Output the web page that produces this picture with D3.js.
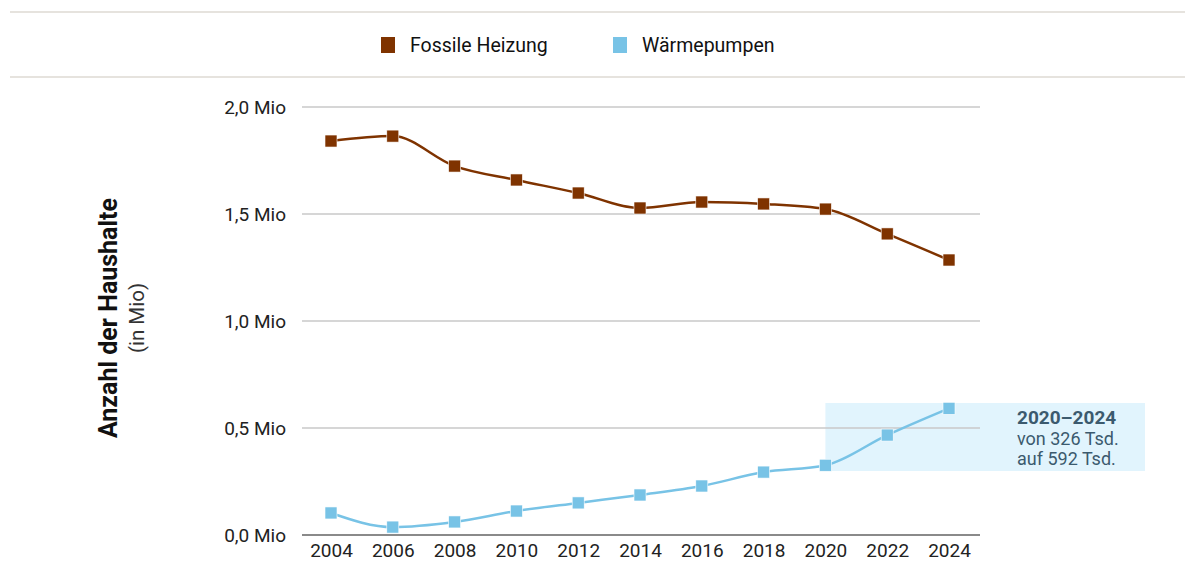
<!DOCTYPE html>
<html><head><meta charset="utf-8">
<script src="https://cdn.jsdelivr.net/npm/d3@7"></script>
<style>body{margin:0;background:#fff;}svg{display:block;font-family:Roboto,"Liberation Sans",sans-serif;}</style>
</head><body><svg id="c" width="1185" height="563"></svg>
<script>
const years = [2004,2006,2008,2010,2012,2014,2016,2018,2020,2022,2024];
const fossil = [1.841,1.864,1.724,1.659,1.598,1.528,1.556,1.547,1.523,1.407,1.285];
const heatpump = [0.103,0.037,0.061,0.112,0.150,0.187,0.229,0.294,0.326,0.467,0.592];
const yTicks = [0,0.5,1.0,1.5,2.0];
const seriesNames = ["Fossile Heizung","Wärmepumpen"];
const seriesColors = ["#7f3300","#78c3e6"];
const annoLines = ["2020–2024","von 326 Tsd.","auf 592 Tsd."];
const annoRange = [2020,2024];

const svg = d3.select("#c");
const x = d3.scaleLinear().domain([2004,2024]).range([331,949]);
const y = d3.scaleLinear().domain([0,2]).range([535,107]);

// top rules
[12,77].forEach(yy=>svg.append("line").attr("x1",10).attr("x2",1185).attr("y1",yy).attr("y2",yy).attr("stroke","#e6e3de").attr("stroke-width",2));

// legend
const legX=[381,613];
seriesNames.forEach((n,i)=>{
  svg.append("rect").attr("x",legX[i]).attr("y",37).attr("width",14).attr("height",16).attr("fill",seriesColors[i]);
  svg.append("text").attr("x",legX[i]+29).attr("y",52).attr("font-size",19.5).attr("fill","#111").text(n);
});

// annotation box
svg.append("rect").attr("x",x(annoRange[0])).attr("y",403).attr("width",1145-x(annoRange[0])).attr("height",68).attr("fill","#e1f4fd");

// grid
svg.append("g").selectAll("line").data(yTicks.filter(d=>d>0)).join("line")
  .attr("x1",302).attr("x2",980).attr("y1",d=>y(d)).attr("y2",d=>y(d)).attr("stroke","#c8c8c8").attr("stroke-width",1.5);
svg.append("line").attr("x1",302).attr("x2",980).attr("y1",y(0)).attr("y2",y(0)).attr("stroke","#8a8a8a").attr("stroke-width",2);

// y labels
const fmt = d=>d3.format(".1f")(d).replace(".",",")+" Mio";
const ya = svg.append("g").attr("transform","translate(286,0)").call(d3.axisLeft(y).tickValues(yTicks).tickSize(0).tickPadding(0).tickFormat(fmt));
ya.select(".domain").remove();
ya.selectAll("text").attr("font-size",19).attr("fill","#222").attr("font-family","Roboto,sans-serif");

// x labels
const xa = svg.append("g").attr("transform","translate(0,542)").call(d3.axisBottom(x).tickValues(years).tickSize(0).tickPadding(0).tickFormat(d3.format("d")));
xa.select(".domain").remove();
xa.selectAll("text").attr("font-size",19).attr("fill","#222").attr("font-family","Roboto,sans-serif").attr("dy","0.8em");

// axis title
svg.append("text").attr("transform","translate(117,318) rotate(-90)").attr("text-anchor","middle")
  .attr("font-size",25).attr("font-weight","bold").attr("fill","#111").text("Anzahl der Haushalte");
svg.append("text").attr("transform","translate(144,318) rotate(-90)").attr("text-anchor","middle").attr("font-size",20.5).attr("fill","#333").text("(in Mio)");

// lines
const line = d3.line().x((d,i)=>x(years[i])).y(d=>y(d)).curve(d3.curveMonotoneX);
[fossil,heatpump].forEach((s,k)=>{
  svg.append("path").attr("d",line(s)).attr("fill","none").attr("stroke",seriesColors[k]).attr("stroke-width",2.5);
  svg.append("g").selectAll("rect").data(s).join("rect")
    .attr("x",(d,i)=>x(years[i])-6).attr("y",d=>y(d)-6).attr("width",12).attr("height",12)
    .attr("fill",seriesColors[k]).attr("stroke","#fff").attr("stroke-width",0.6);
});

// annotation text
annoLines.forEach((l,i)=>{
  svg.append("text").attr("x",1017).attr("y",424+i*20.5).attr("font-size",i===0?19:18)
    .attr("font-weight",i===0?"bold":"normal").attr("fill","#3b5a6e").text(l);
});
</script></body></html>
